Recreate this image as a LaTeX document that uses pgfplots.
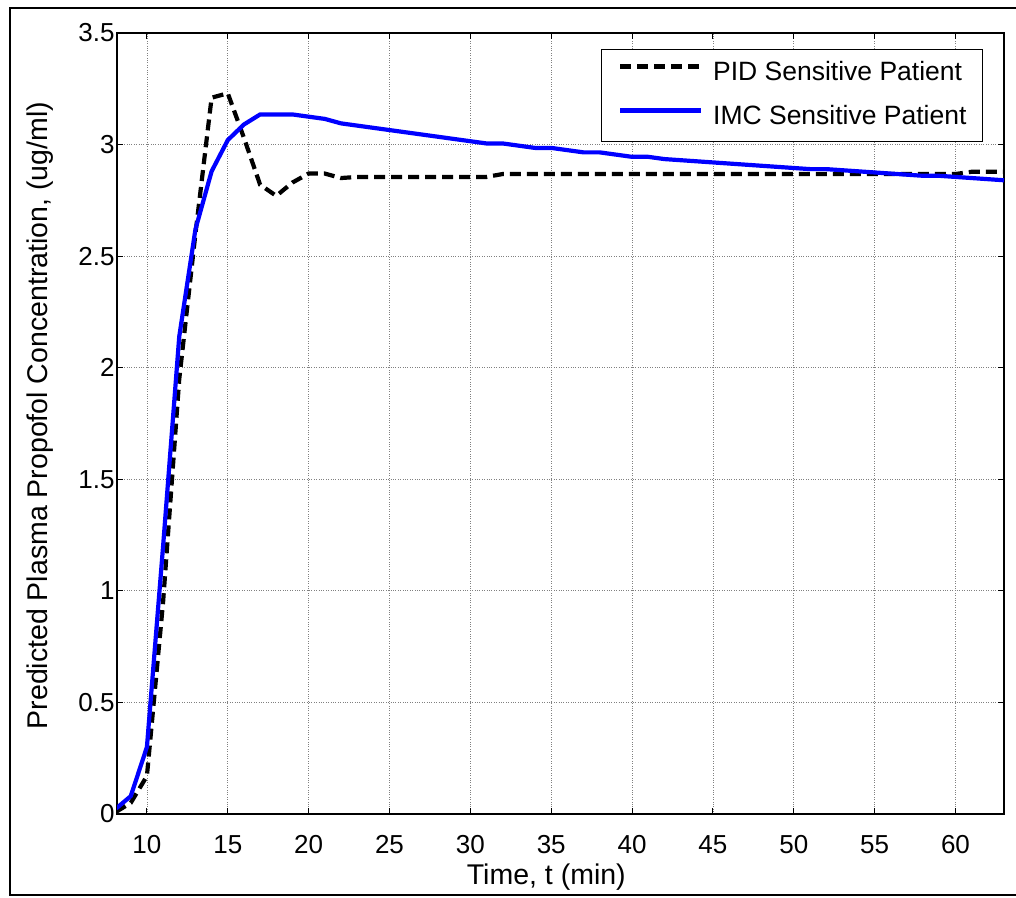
\documentclass[border=0pt]{standalone}
\usepackage{fontspec}
\setmainfont{Liberation Sans}
\usepackage{pgfplots}
\pgfplotsset{compat=1.18}
\begin{document}
\begin{tikzpicture}
\useasboundingbox (0pt,0pt) rectangle (1016pt,897pt);
\draw[line width=2pt] (1016pt,889pt) -- (10pt,889pt) -- (10pt,2pt) -- (1016pt,2pt);
\begin{axis}[
  at={(117pt,83pt)}, anchor=south west,
  scale only axis, width=887pt, height=781pt,
  xmin=8.15, xmax=63, ymin=0, ymax=3.5,
  xtick={10,15,...,60}, ytick={0,0.5,...,3.5},
  yticklabels={0,0.5,1,1.5,2,2.5,3,3.5},
  /pgf/number format/assume math mode=true,
  tick label style={font=\fontsize{26}{30}\selectfont},
  xticklabel style={yshift=-18pt},
  yticklabel style={xshift=1pt},
  tick align=inside, major tick length=6pt,
  every tick/.style={black, line width=1pt},
  axis line style={line width=1.5pt},
  grid=major, grid style={dotted, gray, line width=0.8pt},
  xlabel={Time, t (min)},
  ylabel={Predicted Plasma Propofol Concentration, (ug/ml)},
  label style={font=\fontsize{28.5}{33}\selectfont},
  xlabel style={at={(axis description cs:0.484,-0.081)}, anchor=center},
  ylabel style={at={(axis description cs:-0.087,0.51)}, anchor=center},
  legend style={at={(axis description cs:0.9763,0.9795)}, anchor=north east,
    font=\fontsize{26.5}{31}\selectfont, draw=black, line width=1pt,
    inner xsep=16pt, inner ysep=12pt, row sep=20pt,
    nodes={inner sep=0pt, text height=19pt, text depth=5pt},
    /tikz/every odd column/.append style={column sep=10pt}},
  legend cell align=left,
  legend image code/.code={\draw[#1] (0pt,7pt) -- (81pt,7pt);},
]
\addplot[black, line width=4.2pt, dash pattern=on 11pt off 6pt] coordinates {
(8.1,0.01) (9,0.05) (10,0.17) (11,0.95) (12,1.95) (13,2.60) (14,3.21) (15,3.23)
(16,3.03) (17,2.82) (18,2.77) (19,2.83) (20,2.87) (21,2.87) (22,2.85) (23,2.855)
(24,2.855) (25,2.855) (26,2.855) (27,2.855) (28,2.855) (29,2.855) (30,2.855) (31,2.855)
(32,2.868) (35,2.868) (40,2.868) (45,2.868) (50,2.868) (55,2.868) (60,2.868)
(61,2.878) (62,2.878) (63,2.878)
};
\addlegendentry{PID Sensitive Patient}
\addplot[color={rgb,255:red,0;green,0;blue,255}, line width=4.2pt] coordinates {
(8.1,0.025) (9,0.08) (10,0.30) (11,1.20) (12,2.14) (13,2.62) (14,2.88) (15,3.02)
(16,3.09) (17,3.135) (18,3.135) (19,3.135) (20,3.125) (21,3.115) (22,3.095) (23,3.085)
(24,3.075) (25,3.065) (26,3.055) (27,3.045) (28,3.035) (29,3.025) (30,3.015) (31,3.005)
(32,3.005) (33,2.995) (34,2.985) (35,2.985) (36,2.975) (37,2.965) (38,2.965) (39,2.955)
(40,2.945) (41,2.945) (42,2.935) (43,2.93) (44,2.925) (45,2.92) (46,2.915) (47,2.91)
(48,2.905) (49,2.90) (50,2.895) (51,2.89) (52,2.89) (53,2.885) (54,2.88) (55,2.875)
(56,2.87) (57,2.865) (58,2.86) (59,2.86) (60,2.855) (61,2.85) (62,2.845) (63,2.84)
};
\addlegendentry{IMC Sensitive Patient}
\end{axis}
\end{tikzpicture}
\end{document}
